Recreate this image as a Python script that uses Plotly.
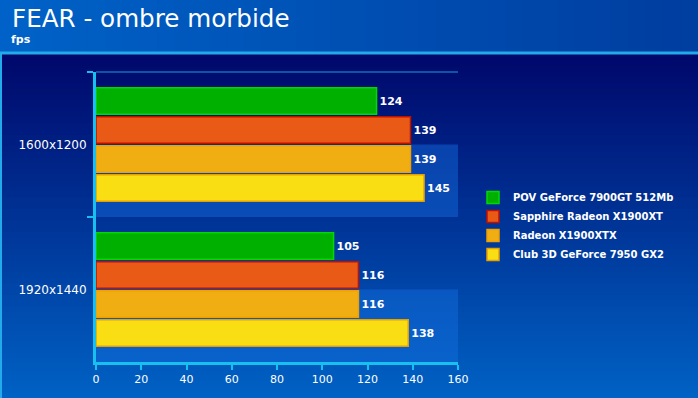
import plotly.graph_objects as go

categories = ["1600x1200", "1920x1440"]
series_names = ["POV GeForce 7900GT 512Mb", "Sapphire Radeon X1900XT", "Radeon X1900XTX", "Club 3D GeForce 7950 GX2"]
pov_7900gt = [124, 105]
sapphire_x1900xt = [139, 116]
radeon_x1900xtx = [139, 116]
club3d_7950gx2 = [145, 138]
x_ticks = [0, 20, 40, 60, 80, 100, 120, 140, 160]

series_values = [pov_7900gt, sapphire_x1900xt, radeon_x1900xtx, club3d_7950gx2]
fills = ["#00b000", "#e85a16", "#f0ae12", "#f8de12"]
borders = ["#00d800", "#c01000", "#f0a000", "#e8a000"]

W, H = 698, 398
L, R, T, B = 96, 240, 72, 36
PW, PH = W - L - R, H - T - B

def px(p):
    return (p - L) / PW

def py(p):
    return (H - B - p) / PH

fig = go.Figure()
for name, vals, fc, bc in zip(series_names, series_values, fills, borders):
    fig.add_trace(go.Bar(
        y=categories, x=vals, name=name, orientation="h",
        marker=dict(color=fc, line=dict(color=bc, width=1.5)),
        text=vals, textposition="outside", cliponaxis=False,
        textfont=dict(color="white", size=11, family="DejaVu Sans", weight="bold"),
    ))

shapes = []
# header gradient (horizontal)
n = 40
c0, c1 = (0, 98, 200), (0, 62, 160)
for i in range(n):
    t = i / (n - 1)
    c = tuple(int(a + (b - a) * t) for a, b in zip(c0, c1))
    shapes.append(dict(type="rect", xref="paper", yref="paper", layer="below",
                       x0=px(i * W / n), x1=px((i + 1) * W / n + 1), y0=py(53), y1=py(0),
                       fillcolor="rgb(%d,%d,%d)" % c, line=dict(width=0)))
# main panel gradient (vertical)
n = 60
c0, c1 = (0, 8, 108), (0, 98, 196)
top = 54
for i in range(n):
    t = i / (n - 1)
    c = tuple(int(a + (b - a) * t) for a, b in zip(c0, c1))
    y0 = top + i * (H - top) / n
    y1 = top + (i + 1) * (H - top) / n + 1
    shapes.append(dict(type="rect", xref="paper", yref="paper", layer="below",
                       x0=px(0), x1=px(W), y0=py(y1), y1=py(y0),
                       fillcolor="rgb(%d,%d,%d)" % c, line=dict(width=0)))
# separator line under header
shapes.append(dict(type="line", xref="paper", yref="paper", layer="below",
                   x0=px(0), x1=px(W), y0=py(53), y1=py(53),
                   line=dict(color="#22aaea", width=3)))
shapes.append(dict(type="line", xref="paper", yref="paper", layer="below",
                   x0=px(1), x1=px(1), y0=py(53), y1=py(H),
                   line=dict(color="#22aaea", width=2)))
# lighter stripes in the plot area
for k in range(len(categories)):
    shapes.append(dict(type="rect", xref="x", yref="y", layer="below",
                       x0=x_ticks[0], x1=x_ticks[-1], y0=k, y1=k + 0.5,
                       fillcolor="rgba(20,110,225,0.45)", line=dict(width=0)))
# top line of plot
shapes.append(dict(type="line", xref="x", yref="paper", layer="below",
                   x0=x_ticks[0], x1=x_ticks[-1], y0=1, y1=1,
                   line=dict(color="#1c9ee0", width=1)))

fig.update_layout(
    width=W, height=H,
    margin=dict(l=L, r=R, t=T, b=B, autoexpand=False),
    paper_bgcolor="#001070",
    plot_bgcolor="rgba(0,0,0,0)",
    barmode="group", bargap=0.2, bargroupgap=0.08,
    shapes=shapes,
    font=dict(family="DejaVu Sans", color="white"),
    title=dict(text="FEAR - ombre morbide", x=12 / W, y=1 - 18 / H,
               xanchor="left", yanchor="middle",
               font=dict(size=24.6, color="white", family="DejaVu Sans")),
    annotations=[dict(text="<b>fps</b>", xref="paper", yref="paper",
                      x=px(9), y=py(39), xanchor="left", yanchor="middle",
                      showarrow=False, font=dict(size=11, color="white"))],
    legend=dict(x=px(473), y=py(226), xanchor="left", yanchor="middle",
                bgcolor="rgba(0,0,0,0)",
                font=dict(size=10, color="white", family="DejaVu Sans", weight="bold"),
                itemwidth=30, tracegroupgap=0),
    xaxis=dict(range=[x_ticks[0], x_ticks[-1]], tickvals=x_ticks, showgrid=False,
               zeroline=False, showline=True, linecolor="#18c0f0", linewidth=3,
               ticks="outside", ticklen=5, tickwidth=2, tickcolor="#18c0f0",
               tickfont=dict(size=11, color="white")),
    yaxis=dict(autorange="reversed", showgrid=False, zeroline=False,
               showline=True, linecolor="#18c0f0", linewidth=3,
               ticks="outside", tickson="boundaries", ticklen=6, tickwidth=2,
               tickcolor="#18c0f0", ticklabelstandoff=4,
               tickfont=dict(size=12, color="white")),
)

fig.write_html("out.html", config={"displayModeBar": False},
               post_script="document.body.style.margin='0';")
